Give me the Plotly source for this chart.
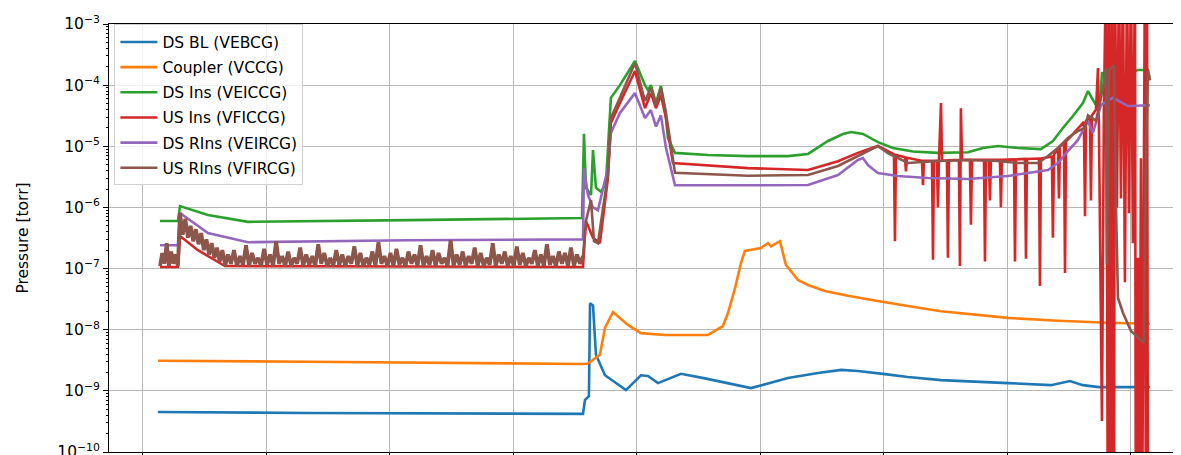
import numpy as np
import plotly.graph_objects as go

# time axis in days (ticks every day, labels cut off in the original)
# ---- DS BL (VEBCG)
blue_t = [0.121, 1.336, 3.563, 3.579, 3.611, 3.620, 3.644, 3.668, 3.741, 3.911, 4.032, 4.089,
          4.170, 4.356, 4.551, 4.923, 5.223, 5.466, 5.655, 5.789, 6.008, 6.194, 6.462, 7.004, 7.352,
          7.506, 7.611, 7.741, 8.138, 8.154]
blue_p = [4.5e-10, 4.35e-10, 4.2e-10, 7.1e-10, 8.2e-10, 2.7e-8, 2.5e-8, 3.9e-9, 1.8e-9, 1.03e-9, 1.8e-9, 1.75e-9,
          1.34e-9, 1.9e-9, 1.6e-9, 1.11e-9, 1.62e-9, 1.96e-9, 2.2e-9, 2.11e-9, 1.88e-9, 1.68e-9, 1.5e-9, 1.34e-9, 1.24e-9,
          1.45e-9, 1.24e-9, 1.15e-9, 1.15e-9, 1.15e-9]

# ---- Coupler (VCCG)
orange_t = [0.121, 1.336, 3.563, 3.603, 3.700, 3.741, 3.806, 3.927, 4.032, 4.227, 4.575, 4.696, 4.737, 4.794,
            4.842, 4.874, 5.004, 5.061, 5.085, 5.158, 5.206, 5.304, 5.385, 5.522, 5.709, 5.927, 6.194, 6.462,
            7.004, 7.409, 7.814, 8.154]
orange_p = [3.1e-9, 3.0e-9, 2.75e-9, 2.8e-9, 3.9e-9, 1.07e-8, 1.95e-8, 1.2e-8, 8.8e-9, 8.2e-9, 8.2e-9, 1.15e-8, 1.87e-8, 4.8e-8,
            1.23e-7, 1.94e-7, 2.17e-7, 2.6e-7, 2.3e-7, 2.8e-7, 1.15e-7, 6.5e-8, 5.4e-8, 4.3e-8, 3.6e-8, 3.0e-8, 2.44e-8, 2.0e-8,
            1.56e-8, 1.4e-8, 1.3e-8, 1.25e-8]

# ---- DS Ins (VEICCG)
green_t = [0.138, 0.283, 0.300, 0.526, 0.850, 2.146, 3.555, 3.571, 3.587, 3.628, 3.644, 3.668, 3.709, 3.749,
           3.789, 3.862, 3.984, 4.065, 4.089, 4.113, 4.154, 4.194, 4.227, 4.251, 4.308, 4.575, 4.899, 5.223,
           5.385, 5.547, 5.668, 5.733, 5.830, 5.951, 6.073, 6.235, 6.437, 6.680, 6.802, 6.923, 7.085, 7.271,
           7.368, 7.449, 7.530, 7.611, 7.652, 7.717, 7.749, 7.765, 7.903, 8.057, 8.138, 8.154]
green_p = [6.0e-7, 6.0e-7, 1.05e-6, 7.5e-7, 5.8e-7, 6.2e-7, 6.7e-7, 1.6e-5, 2.1e-6, 1.6e-6, 8.7e-6, 2.1e-6, 1.8e-6, 2.5e-6,
           6.2e-5, 1.0e-4, 2.48e-4, 1.0e-4, 8.3e-5, 1.0e-4, 5.1e-5, 9.7e-5, 4.2e-5, 1.36e-5, 7.8e-6, 7.2e-6, 6.9e-6, 6.9e-6,
           7.5e-6, 1.22e-5, 1.59e-5, 1.71e-5, 1.59e-5, 1.17e-5, 9.4e-6, 8.2e-6, 7.8e-6, 8.0e-6, 9.4e-6, 1.01e-5, 9.4e-6, 9.0e-6,
           1.22e-5, 1.99e-5, 3.13e-5, 5.1e-5, 8.0e-5, 4.7e-5, 4.7e-5, 1.58e-4, 1.4e-4, 1.77e-4, 1.77e-4, 1.2e-4]

# ---- US Ins (VFICCG)
red_t = [0.138, 0.283, 0.300, 0.445, 0.664, 2.146, 3.563, 3.587, 3.644, 3.700, 3.765, 3.789, 3.862, 3.984,
         4.065, 4.113, 4.154, 4.194, 4.235, 4.291, 4.899, 5.385, 5.628, 5.789, 5.951,
         6.081, 6.089, 6.097, 6.170, 6.178, 6.186, 6.308, 6.316, 6.324, 6.389, 6.397, 6.405, 6.429, 6.437,
         6.445, 6.462, 6.470, 6.510, 6.518, 6.526, 6.607, 6.615, 6.623, 6.632, 6.696, 6.704, 6.713, 6.810,
         6.818, 6.826, 6.850, 6.858, 6.866, 6.939, 6.947, 6.955, 7.053, 7.061, 7.069, 7.142, 7.150, 7.158,
         7.255, 7.263, 7.271, 7.360, 7.368, 7.377, 7.409, 7.417, 7.425, 7.458, 7.466, 7.474, 7.506, 7.619,
         7.628, 7.636, 7.668, 7.676, 7.684, 7.717,
         7.733, 7.741, 7.765, 7.781, 7.798, 7.814, 7.822, 7.838, 7.846, 7.862, 7.870, 7.887, 7.903, 7.919,
         7.935, 7.951, 7.968, 7.984, 8.000, 8.016, 8.032, 8.040, 8.057, 8.065, 8.081, 8.089, 8.113, 8.121,
         8.130, 8.138]
red_p = [1.06e-7, 1.06e-7, 3.4e-7, 2.0e-7, 1.1e-7, 1.08e-7, 1.06e-7, 6.0e-7, 3.2e-7, 2.6e-7, 3.0e-6, 2.4e-5, 5.1e-5, 1.7e-4,
         4.2e-5, 7.4e-5, 4.2e-5, 6.9e-5, 2.9e-5, 5.3e-6, 4.4e-6, 4.1e-6, 5.7e-6, 7.8e-6, 1.01e-5,
         7.4e-6, 2.8e-7, 7.2e-6, 6.6e-6, 3.9e-6, 6.5e-6, 5.8e-6, 2.3e-6, 5.8e-6, 5.8e-6, 1.4e-7, 5.8e-6, 5.8e-6, 1.0e-6,
         5.8e-6, 5.1e-5, 5.8e-6, 5.9e-6, 1.5e-7, 5.9e-6, 6.0e-6, 1.1e-7, 4.2e-5, 6.0e-6, 6.0e-6, 5.2e-7, 6.0e-6, 6.0e-6,
         1.3e-7, 6.0e-6, 6.0e-6, 1.3e-6, 6.0e-6, 6.0e-6, 1.0e-6, 6.0e-6, 6.1e-6, 1.3e-7, 6.1e-6, 6.2e-6, 1.45e-7, 6.2e-6,
         6.3e-6, 5.2e-8, 6.3e-6, 6.8e-6, 3.2e-7, 7.4e-6, 9.0e-6, 1.4e-6, 1.0e-5, 1.15e-5, 8.5e-8, 1.2e-5, 1.4e-5, 2.5e-5,
         7.2e-7, 2.6e-5, 3.0e-5, 1.3e-6, 3.2e-5, 4.0e-5,
         1.9e-4, 2.0e-5, 3.2e-10, 4.2e-5, 1e-2, 1e-12, 1e-2, 1e-12, 1e-2, 1e-12, 1e-2, 1.0e-6, 1e-2, 1.4e-6,
         1e-2, 6.0e-8, 1e-2, 8.0e-7, 1e-2, 2.6e-7, 1e-2, 1e-12, 1.5e-7, 1e-12, 6.4e-6, 1e-12, 1e-2, 1e-12,
         1e-2, 1e-12]

# ---- DS RIns (VEIRCG)
purple_t = [0.138, 0.283, 0.300, 0.526, 0.850, 2.146, 3.563, 3.571, 3.603, 3.644, 3.684, 3.765, 3.789, 3.862,
            3.984, 4.065, 4.113, 4.154, 4.194, 4.235, 4.308, 4.899, 5.385, 5.628, 5.789, 5.830, 5.870, 5.951,
            6.113, 6.356, 6.680, 7.004, 7.166, 7.328, 7.409, 7.490, 7.571, 7.652, 7.692, 7.757, 7.854, 7.976, 8.154]
purple_p = [2.4e-7, 2.4e-7, 8.1e-7, 3.8e-7, 2.7e-7, 2.9e-7, 3.0e-7, 4.4e-6, 1.6e-6, 1.0e-6, 9.0e-7, 4.4e-6, 1.65e-5, 3.5e-5,
            7.4e-5, 2.9e-5, 3.9e-5, 2.1e-5, 3.2e-5, 9.4e-6, 2.3e-6, 2.3e-6, 2.33e-6, 3.39e-6, 5.97e-6, 6.43e-6, 4.94e-6, 3.66e-6,
            3.27e-6, 3.03e-6, 2.92e-6, 3.27e-6, 3.66e-6, 4.09e-6, 5.33e-6, 8.37e-6, 1.27e-5, 2.59e-5, 1.65e-5, 4.7e-5, 6.2e-5,
            4.55e-5, 4.7e-5]

# ---- US RIns (VFIRCG): noisy start (values in 1e-7 torr), then the rest
brown_pre = [1.1, 1.8, 1.2, 2.6, 1.1, 1.9, 1.2, 1.7, 1.1]
brown_decay = [8.1, 3.6, 6.5, 3.2, 5.0, 2.8, 4.4, 2.5, 3.8, 2.0, 3.0, 1.7, 2.6, 1.5, 2.2, 1.3, 2.0, 1.2]
brown_flat = [1.1, 1.7, 1.2, 2.0, 1.1, 1.6, 1.15, 2.4, 1.1, 1.8, 1.2, 1.5, 1.1, 2.1, 1.15, 1.7, 1.1, 2.8, 1.2, 1.6,
              1.1, 1.9, 1.1, 1.5, 1.2, 2.2, 1.1, 1.7, 1.15, 1.6, 1.1, 2.5, 1.2, 1.8, 1.1, 1.5, 1.1, 2.0, 1.15, 1.7,
              1.1, 1.6, 1.2, 2.3, 1.1, 1.8, 1.1, 1.5, 1.15, 1.9, 1.1, 2.7, 1.2, 1.6, 1.1, 1.8, 1.1, 2.1, 1.15, 1.5,
              1.1, 1.9, 1.2, 1.7, 1.1, 2.4, 1.1, 1.6, 1.15, 2.0, 1.1, 1.8, 1.2, 1.5, 1.1, 2.9, 1.1, 1.7, 1.15, 1.9,
              1.1, 1.6, 1.2, 2.2, 1.1, 1.8, 1.1, 1.5, 1.15, 2.6, 1.1, 1.7, 1.2, 1.9, 1.1, 1.6, 1.1, 2.3, 1.15, 1.8,
              1.1, 1.5, 1.2, 2.0, 1.1, 1.7, 1.1, 2.5, 1.15, 1.6, 1.1, 1.9, 1.2, 1.8, 1.1, 2.2, 1.1, 1.7, 1.2, 1.6]
brown_t = [3.563, 3.587, 3.628, 3.652, 3.684, 3.765, 3.789, 3.862, 3.984, 4.065, 4.113, 4.154, 4.194, 4.235, 4.308,
           4.899, 5.385, 5.628, 5.789, 5.951, 6.032, 6.194, 6.437, 6.680, 6.923, 7.085, 7.247, 7.328, 7.409,
           7.490, 7.571, 7.628, 7.652, 7.717, 7.773, 7.798, 7.806, 7.822, 7.862, 7.879, 7.895, 7.935, 8.000,
           8.105, 8.121, 8.138, 8.154]
brown_p = [1.6e-7, 6.0e-7, 1.32e-6, 2.8e-7, 2.6e-7, 3.4e-6, 2.9e-5, 6.2e-5, 2.3e-4, 5.5e-5, 9.0e-5, 4.7e-5, 9.0e-5, 3.5e-5, 3.7e-6,
           3.3e-6, 3.39e-6, 4.76e-6, 6.93e-6, 1.01e-5, 7.76e-6, 5.33e-6, 5.74e-6, 5.97e-6, 5.74e-6, 5.33e-6, 5.33e-6, 6.93e-6,
           9.37e-6, 1.37e-5, 1.78e-5, 1.99e-5, 3.2e-5, 2.6e-5, 9.0e-5, 1.9e-4, 1.15e-7, 1.77e-4, 2.1e-4, 1.0e-6, 3.3e-8,
           1.9e-8, 9.5e-9, 6.1e-9, 6.4e-6, 1.7e-4, 1.2e-4]

# sample times of the noisy brown stretch (evenly logged)
brown_noise_t = np.concatenate([np.linspace(0.138, 0.283, len(brown_pre)),
                                np.linspace(0.300, 0.664, len(brown_decay)),
                                np.linspace(0.664, 3.563, len(brown_flat))])
brown_noise_p = np.concatenate([brown_pre, brown_decay, brown_flat]) * 1e-7

series = [
    ("DS BL (VEBCG)", blue_t, blue_p, "#1f77b4"),
    ("Coupler (VCCG)", orange_t, orange_p, "#ff7f0e"),
    ("DS Ins (VEICCG)", green_t, green_p, "#2ca02c"),
    ("US Ins (VFICCG)", red_t, red_p, "#d62728"),
    ("DS RIns (VEIRCG)", purple_t, purple_p, "#9467bd"),
    ("US RIns (VFIRCG)", brown_t, brown_p, "#8c564b"),
]

decades = [1e-10, 1e-9, 1e-8, 1e-7, 1e-6, 1e-5, 1e-4, 1e-3]
decade_labels = ["10<sup>\u2212%d</sup>" % k for k in range(10, 2, -1)]

fig = go.Figure()
for i, (name, t, p, col) in enumerate(series):
    if i == 5:
        # dense noisy stretch of the same gauge, drawn as a solid band like the dense log
        fig.add_trace(go.Scatter(x=brown_noise_t, y=brown_noise_p, mode="lines", showlegend=False,
                                 legendgroup=str(i), line=dict(color=col, width=3.8, simplify=False),
                                 hoverinfo="skip"))
    fig.add_trace(go.Scatter(x=t, y=p, mode="lines", name=name, legendgroup=str(i),
                             line=dict(color=col, width=2.6, simplify=False)))

font = "DejaVu Sans, Liberation Sans, sans-serif"
fig.update_layout(
    width=1181, height=455,
    margin=dict(l=101, r=0, t=16, b=11),
    plot_bgcolor="white", paper_bgcolor="white",
    font=dict(family=font, size=15.5, color="black"),
    showlegend=True,
    legend=dict(x=0.005, y=0.999, xanchor="left", yanchor="top",
                bgcolor="rgba(255,255,255,0.8)", bordercolor="#d0d0d0", borderwidth=1,
                font=dict(size=15.5), tracegroupgap=2, itemwidth=37),
    xaxis=dict(range=[-0.275, 8.47], tickvals=list(range(9)), showticklabels=False,
               ticks="outside", ticklen=5, tickcolor="black",
               showgrid=True, gridcolor="#b8b8b8", gridwidth=1, zeroline=False,
               showline=True, linecolor="black", linewidth=1, mirror=True),
    yaxis=dict(type="log", range=[-10, -3],
               tickvals=decades, ticktext=decade_labels,
               ticks="outside", ticklen=5, tickcolor="black", tickfont=dict(size=15.5),
               minor=dict(ticks="outside", ticklen=2.5, tickcolor="black", dtick="D1", showgrid=False),
               showgrid=True, gridcolor="#b8b8b8", gridwidth=1, zeroline=False,
               showline=True, linecolor="black", linewidth=1, mirror=False,
               title=dict(text="Pressure [torr]", standoff=24, font=dict(size=15.5))),
)

fig.write_html("out.html")
